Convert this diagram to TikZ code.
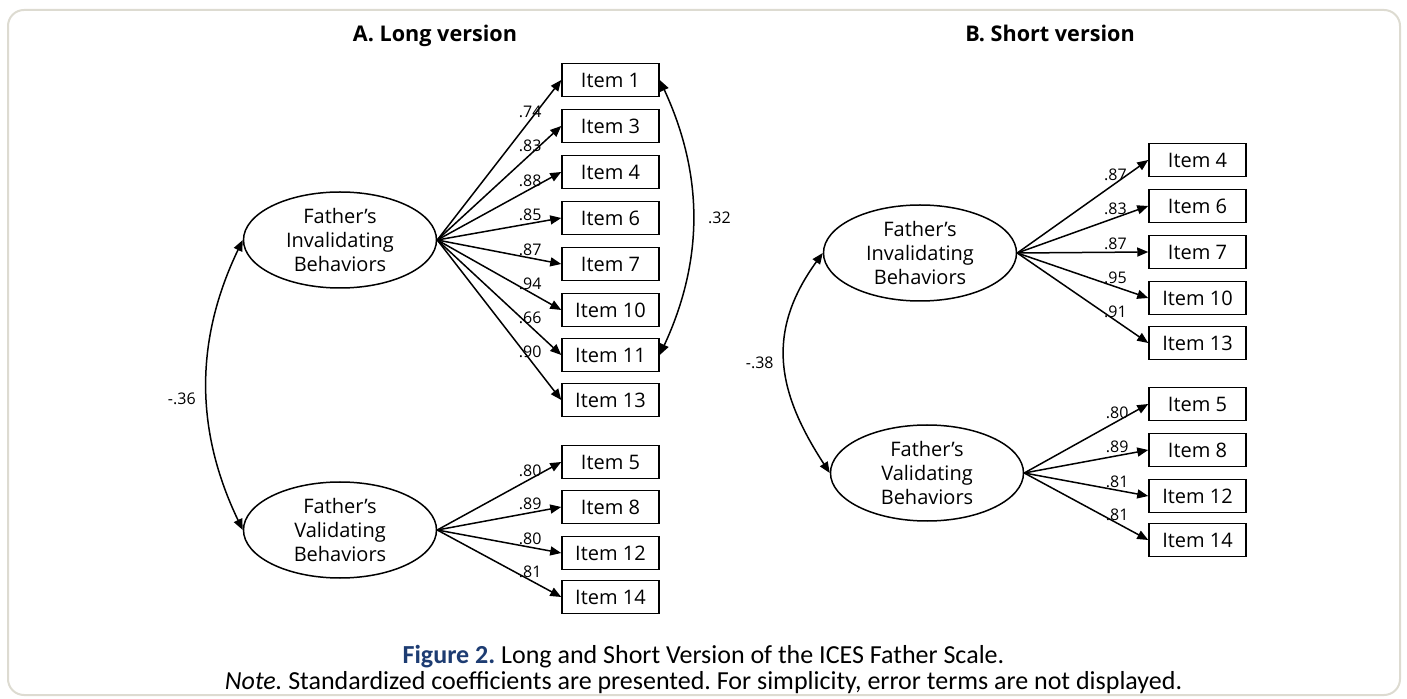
\documentclass[tikz,border=0pt]{standalone}
\usepackage{fontspec}
\setmainfont{Open Sans}
\newfontfamily\capfont{Carlito}
\usetikzlibrary{arrows.meta, positioning, calc, shapes.geometric}
\definecolor{framegray}{HTML}{DDDBD1}
\definecolor{capblue}{HTML}{1D3C72}
\frenchspacing

\begin{document}
\begin{tikzpicture}[
  x=0.5pt, y=0.5pt,
  >={Triangle[length=5.5pt, width=4.5pt]},
  itembox/.style={
    draw, line width=0.75pt, minimum width=48.5pt, minimum height=16.5pt,
    inner sep=0pt, font=\normalsize
  },
  latent/.style={
    draw, ellipse, line width=0.75pt, minimum width=96.5pt,
    minimum height=48pt, inner sep=0pt, align=center, font=\normalsize
  },
  load/.style={->, line width=0.75pt},
  cov/.style={<->, line width=0.75pt},
  coef/.style={font=\footnotesize, pos=0.75, anchor=south, inner sep=1pt},
  paneltitle/.style={font=\fontsize{10.8}{13}\selectfont\bfseries, anchor=base},
  captext/.style={anchor=base, font=\capfont\fontsize{13}{16}\selectfont},
]

% Frame
\useasboundingbox (0,0) rectangle (1407,-699);
\draw[framegray, line width=1pt, rounded corners=8pt] (8,-10) rectangle (1400,-695);

% ---- Panel titles ----
\node[paneltitle] (titleA) at (435,-42) {A. Long version};
\node[paneltitle] (titleB) at (1050,-42) {B. Short version};

% ---- A. Long version ----
\node[latent] (invA) at (340,-240) {Father’s\\Invalidating\\Behaviors};
\node[latent] (valA) at (340,-530) {Father’s\\Validating\\Behaviors};

\foreach \i/\ypos/\lam in {1/80/.74, 3/126/.83, 4/172/.88, 6/218/.85,
                           7/264/.87, 10/310/.94, 11/355/.66, 13/400/.90} {
  \node[itembox] (itemA\i) at (610.5,-\ypos) {Item \i};
  \draw[load] (invA.east) -- (itemA\i.west) node[coef] {\lam};
}

\foreach \i/\ypos/\lam in {5/462/.80, 8/507/.89, 12/553/.80, 14/597/.81} {
  \node[itembox] (itemA\i) at (610.5,-\ypos) {Item \i};
  \draw[load] (valA.east) -- (itemA\i.west) node[coef] {\lam};
}

% Covariances
\draw[cov] (invA.west) .. controls +(-48,-100) and +(-48,100) .. (valA.west)
  node[pos=0.55, left=2pt, font=\footnotesize] {-.36};
\draw[cov] (itemA1.east) .. controls +(44,-95) and +(44,95) .. (itemA11.east)
  node[midway, right=4pt, font=\footnotesize] {.32};

% ---- B. Short version ----
\node[latent] (invB) at (920,-253) {Father’s\\Invalidating\\Behaviors};
\node[latent] (valB) at (927,-473) {Father’s\\Validating\\Behaviors};

\foreach \i/\ypos/\lam in {4/160/.87, 6/206/.83, 7/252/.87, 10/298/.95, 13/343/.91} {
  \node[itembox] (itemB\i) at (1197.5,-\ypos) {Item \i};
  \draw[load] (invB.east) -- (itemB\i.west) node[coef] {\lam};
}

\foreach \i/\ypos/\lam in {5/404/.80, 8/450/.89, 12/496/.81, 14/540/.81} {
  \node[itembox] (itemB\i) at (1197.5,-\ypos) {Item \i};
  \draw[load] (valB.east) -- (itemB\i.west) node[coef] {\lam};
}

% Covariance
\draw[cov] (invB.west) .. controls +(-58,-80) and +(-52,80) .. (valB.west)
  node[midway, left=2pt, font=\footnotesize] {-.38};

% ---- Caption ----
\node[captext] (cap1) at (703.5,-663)
  {{\color{capblue}\bfseries Figure 2.} Long and Short Version of the ICES Father Scale.};
\node[captext] (cap2) at (703.5,-689)
  {\textit{Note.} Standardized coefficients are presented. For simplicity, error terms are not displayed.};

\end{tikzpicture}
\end{document}
